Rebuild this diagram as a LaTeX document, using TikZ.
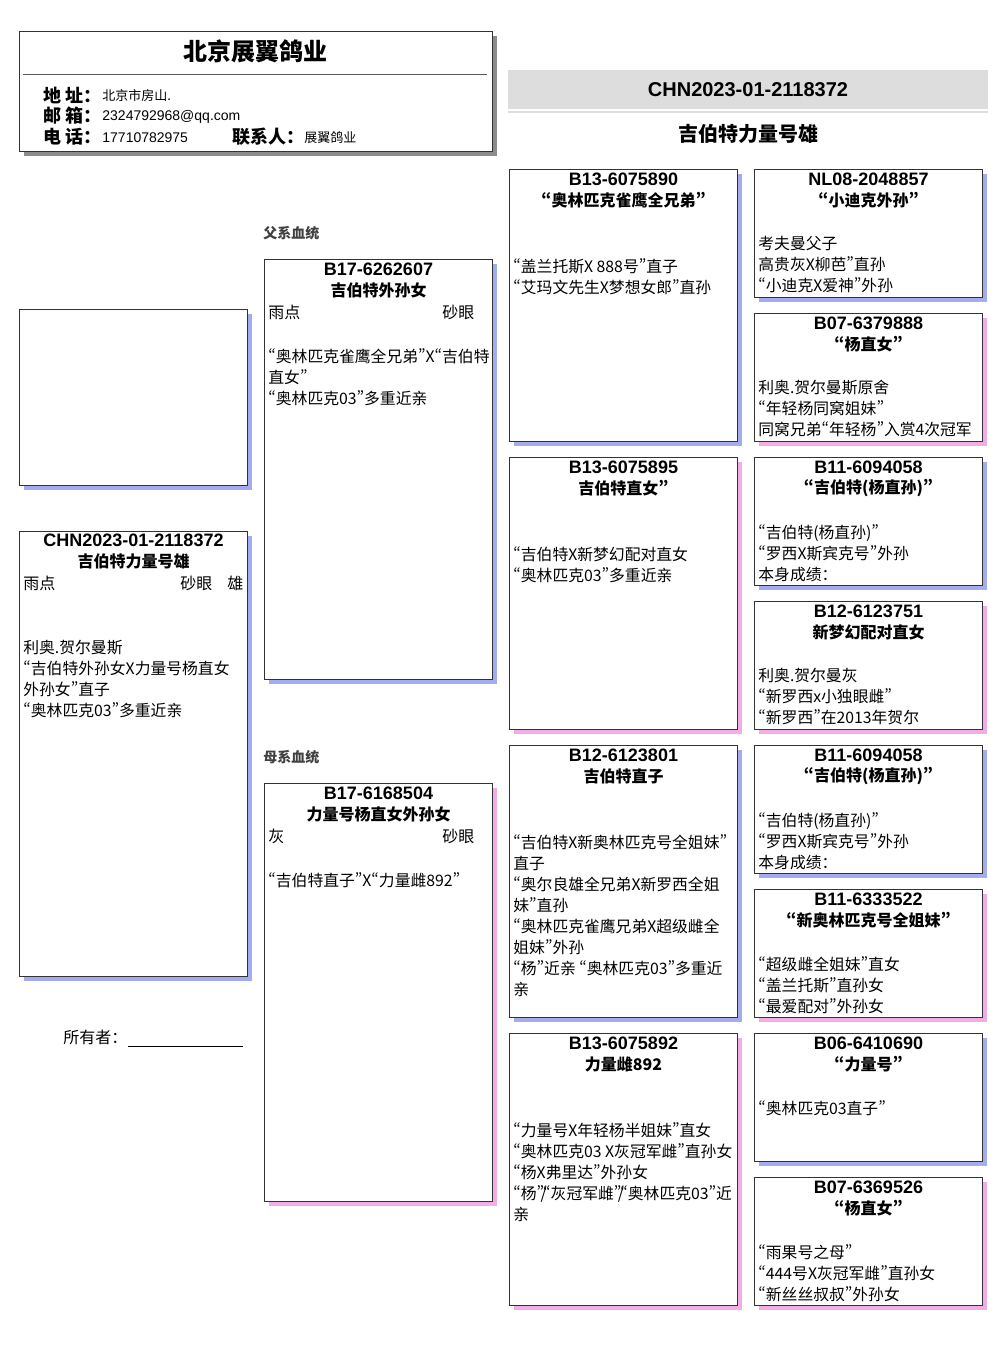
\documentclass[tikz,border=0pt]{standalone}
\usepackage{fontspec}
\setmainfont{Noto Sans CJK SC}[RawFeature=+pwid]
\newfontfamily\idfont{Liberation Sans}
\usepackage{tikz}
\usetikzlibrary{shadows,positioning}
\definecolor{cockblue}{HTML}{A3ACEC}
\definecolor{henpink}{HTML}{F2ACE6}
\definecolor{bandgray}{HTML}{DDDDDD}
\tikzset{
  pbox/.style={draw=black!80, line width=0.5pt, fill=white, anchor=north west, inner sep=0pt, minimum width=114pt},
  cock/.style={pbox, drop shadow={shadow xshift=2pt, shadow yshift=-2pt, fill=cockblue, opacity=1}},
  hen/.style={pbox, drop shadow={shadow xshift=2pt, shadow yshift=-2pt, fill=henpink, opacity=1}},
  ringno/.style={inner sep=0pt, font=\idfont\bfseries\fontsize{9}{11}\selectfont},
  birdname/.style={inner sep=0pt, font=\bfseries\fontsize{8}{10}\selectfont},
  pedtext/.style={inner sep=0pt, anchor=north west, align=left, font=\fontsize{7.9}{10.5}\selectfont},
  colour/.style={inner sep=0pt, anchor=west, font=\fontsize{8}{10}\selectfont},
  sidelabel/.style={inner sep=0pt, anchor=west, text=black!75, font=\bfseries\fontsize{7}{9}\selectfont}
}
\begin{document}
\begin{tikzpicture}[x=0.5pt, y=-0.5pt]
\useasboundingbox (0,0) rectangle (1006,1366);

% loft header
\node[pbox, minimum width=236.5pt, minimum height=60pt, drop shadow={shadow xshift=2pt, shadow yshift=-2pt, fill=black!45, opacity=1}] (loft) at (19,31) {};
\node[inner sep=0pt, font=\bfseries\fontsize{12}{14}\selectfont] (loftname) at (255,51) {北京展翼鸽业};
\draw[black!65, line width=0.5pt] (23,74) -- (487,74);
\node[inner sep=0pt, anchor=west, font=\bfseries\fontsize{9}{11}\selectfont] (addrlbl) at (43,95) {地 址：};
\node[inner sep=0pt, anchor=west, font=\fontsize{6.5}{8}\selectfont] (addr) at (102,96) {北京市房山.};
\node[inner sep=0pt, anchor=west, font=\bfseries\fontsize{9}{11}\selectfont] (maillbl) at (43,116) {邮 箱：};
\node[inner sep=0pt, anchor=west, font=\idfont\fontsize{7}{8}\selectfont] (mail) at (102,117) {2324792968@qq.com};
\node[inner sep=0pt, anchor=west, font=\bfseries\fontsize{9}{11}\selectfont] (tellbl) at (43,137) {电 话：};
\node[inner sep=0pt, anchor=west, font=\idfont\fontsize{7}{8}\selectfont] (tel) at (102,138) {17710782975};
\node[inner sep=0pt, anchor=west, font=\bfseries\fontsize{9}{11}\selectfont] (contactlbl) at (232,137) {联系人：};
\node[inner sep=0pt, anchor=west, font=\fontsize{6.5}{8}\selectfont] (contact) at (304,138) {展翼鸽业};

% ring header
\fill[bandgray] (508,70) rectangle (988,109);
\draw[bandgray, line width=1pt] (508,112) -- (988,112);
\node[inner sep=0pt, font=\idfont\bfseries\fontsize{10}{12}\selectfont] (ring) at (748,90) {CHN2023-01-2118372};
\node[inner sep=0pt, font=\bfseries\fontsize{10}{12}\selectfont] (name) at (748,134) {吉伯特力量号雄};

% subject
\node[cock, minimum height=88pt] (photo) at (19,309) {};
\node[cock, minimum height=222.5pt] (me) at (19,531) {};
\node[ringno] (meno) at ([yshift=-4.5pt]me.north) {CHN2023-01-2118372};
\node[birdname] (mename) at ([yshift=-15pt]me.north) {吉伯特力量号雄};
\node[colour] (mec1) at (23,583) {雨点};
\node[colour] (mec2) at (180,583) {砂眼};
\node[colour] (mec3) at (227,583) {雄};
\node[pedtext] (metxt) at ([xshift=2pt,yshift=-54.5pt]me.north west) {利奥.贺尔曼斯\\“吉伯特外孙女X力量号杨直女\\外孙女”直子\\“奥林匹克03”多重近亲};
\node[inner sep=0pt, anchor=west, font=\fontsize{8}{10}\selectfont] (owner) at (63,1037) {所有者：};
\draw[line width=0.5pt] (128,1046) -- (243,1046);

% parents
\node[sidelabel] (sirelbl) at (263,233) {父系血统};
\node[cock, minimum height=210pt] (s) at (264,259) {};
\node[ringno] (sno) at ([yshift=-5pt]s.north) {B17-6262607};
\node[birdname] (sname) at ([yshift=-15.5pt]s.north) {吉伯特外孙女};
\node[colour] (sc1) at (268,312) {雨点};
\node[colour] (sc2) at (442,312) {砂眼};
\node[pedtext] (stxt) at ([xshift=2pt,yshift=-44.5pt]s.north west) {“奥林匹克雀鹰全兄弟”X“吉伯特\\直女”\\“奥林匹克03”多重近亲};

\node[sidelabel] (damlbl) at (263,757) {母系血统};
\node[hen, minimum height=209pt] (d) at (264,783) {};
\node[ringno] (dno) at ([yshift=-5pt]d.north) {B17-6168504};
\node[birdname] (dname) at ([yshift=-15.5pt]d.north) {力量号杨直女外孙女};
\node[colour] (dc1) at (268,836) {灰};
\node[colour] (dc2) at (442,836) {砂眼};
\node[pedtext] (dtxt) at ([xshift=2pt,yshift=-44.5pt]d.north west) {“吉伯特直子”X“力量雌892”};

% grandparents
\node[cock, minimum height=136pt] (ss) at (509,169) {};
\node[ringno] (ssno) at ([yshift=-5pt]ss.north) {B13-6075890};
\node[birdname] (ssname) at ([yshift=-15.5pt]ss.north) {“奥林匹克雀鹰全兄弟”};
\node[pedtext] (sstxt) at ([xshift=2pt,yshift=-44.5pt]ss.north west) {“盖兰托斯X 888号”直子\\“艾玛文先生X梦想女郎”直孙};

\node[hen, minimum height=136pt] (sd) at (509,457) {};
\node[ringno] (sdno) at ([yshift=-5pt]sd.north) {B13-6075895};
\node[birdname] (sdname) at ([yshift=-15.5pt]sd.north) {吉伯特直女”};
\node[pedtext] (sdtxt) at ([xshift=2pt,yshift=-44.5pt]sd.north west) {“吉伯特X新梦幻配对直女\\“奥林匹克03”多重近亲};

\node[cock, minimum height=136pt] (ds) at (509,745) {};
\node[ringno] (dsno) at ([yshift=-5pt]ds.north) {B12-6123801};
\node[birdname] (dsname) at ([yshift=-15.5pt]ds.north) {吉伯特直子};
\node[pedtext] (dstxt) at ([xshift=2pt,yshift=-44.5pt]ds.north west) {“吉伯特X新奥林匹克号全姐妹”\\直子\\“奥尔良雄全兄弟X新罗西全姐\\妹”直孙\\“奥林匹克雀鹰兄弟X超级雌全\\姐妹”外孙\\“杨”近亲 “奥林匹克03”多重近\\亲};

\node[hen, minimum height=136pt] (dd) at (509,1033) {};
\node[ringno] (ddno) at ([yshift=-5pt]dd.north) {B13-6075892};
\node[birdname] (ddname) at ([yshift=-15.5pt]dd.north) {力量雌892};
\node[pedtext] (ddtxt) at ([xshift=2pt,yshift=-44.5pt]dd.north west) {“力量号X年轻杨半姐妹”直女\\“奥林匹克03 X灰冠军雌”直孙女\\“杨X弗里达”外孙女\\“杨”\kern-1.8pt/\kern-1.8pt“灰冠军雌”\kern-1.8pt/\kern-1.8pt“奥林匹克03”近\\亲};

% great-grandparents
\node[cock, minimum height=64pt] (sss) at (754,169) {};
\node[ringno] (sssno) at ([yshift=-5pt]sss.north) {NL08-2048857};
\node[birdname] (sssname) at ([yshift=-15.5pt]sss.north) {“小迪克外孙”};
\node[pedtext] (ssstxt) at ([xshift=2pt,yshift=-33.5pt]sss.north west) {考夫曼父子\\高贵灰X柳芭”直孙\\“小迪克X爱神”外孙};

\node[hen, minimum height=64pt] (ssd) at (754,313) {};
\node[ringno] (ssdno) at ([yshift=-5pt]ssd.north) {B07-6379888};
\node[birdname] (ssdname) at ([yshift=-15.5pt]ssd.north) {“杨直女”};
\node[pedtext] (ssdtxt) at ([xshift=2pt,yshift=-33.5pt]ssd.north west) {利奥.贺尔曼斯原舍\\“年轻杨同窝姐妹”\\同窝兄弟“年轻杨”入赏4次冠军};

\node[cock, minimum height=64pt] (sds) at (754,457) {};
\node[ringno] (sdsno) at ([yshift=-5pt]sds.north) {B11-6094058};
\node[birdname] (sdsname) at ([yshift=-15.5pt]sds.north) {“吉伯特(杨直孙)”};
\node[pedtext] (sdstxt) at ([xshift=2pt,yshift=-33.5pt]sds.north west) {“吉伯特(杨直孙)”\\“罗西X斯宾克号”外孙\\本身成绩：};

\node[hen, minimum height=64pt] (sdd) at (754,601) {};
\node[ringno] (sddno) at ([yshift=-5pt]sdd.north) {B12-6123751};
\node[birdname] (sddname) at ([yshift=-15.5pt]sdd.north) {新梦幻配对直女};
\node[pedtext] (sddtxt) at ([xshift=2pt,yshift=-33.5pt]sdd.north west) {利奥.贺尔曼灰\\“新罗西x小独眼雌”\\“新罗西”在2013年贺尔};

\node[cock, minimum height=64pt] (dss) at (754,745) {};
\node[ringno] (dssno) at ([yshift=-5pt]dss.north) {B11-6094058};
\node[birdname] (dssname) at ([yshift=-15.5pt]dss.north) {“吉伯特(杨直孙)”};
\node[pedtext] (dsstxt) at ([xshift=2pt,yshift=-33.5pt]dss.north west) {“吉伯特(杨直孙)”\\“罗西X斯宾克号”外孙\\本身成绩：};

\node[hen, minimum height=64pt] (dsd) at (754,889) {};
\node[ringno] (dsdno) at ([yshift=-5pt]dsd.north) {B11-6333522};
\node[birdname] (dsdname) at ([yshift=-15.5pt]dsd.north) {“新奥林匹克号全姐妹”};
\node[pedtext] (dsdtxt) at ([xshift=2pt,yshift=-33.5pt]dsd.north west) {“超级雌全姐妹”直女\\“盖兰托斯”直孙女\\“最爱配对”外孙女};

\node[cock, minimum height=64pt] (dds) at (754,1033) {};
\node[ringno] (ddsno) at ([yshift=-5pt]dds.north) {B06-6410690};
\node[birdname] (ddsname) at ([yshift=-15.5pt]dds.north) {“力量号”};
\node[pedtext] (ddstxt) at ([xshift=2pt,yshift=-33.5pt]dds.north west) {“奥林匹克03直子”};

\node[hen, minimum height=64pt] (ddd) at (754,1177) {};
\node[ringno] (dddno) at ([yshift=-5pt]ddd.north) {B07-6369526};
\node[birdname] (dddname) at ([yshift=-15.5pt]ddd.north) {“杨直女”};
\node[pedtext] (dddtxt) at ([xshift=2pt,yshift=-33.5pt]ddd.north west) {“雨果号之母”\\“444号X灰冠军雌”直孙女\\“新丝丝叔叔”外孙女};
\end{tikzpicture}
\end{document}
